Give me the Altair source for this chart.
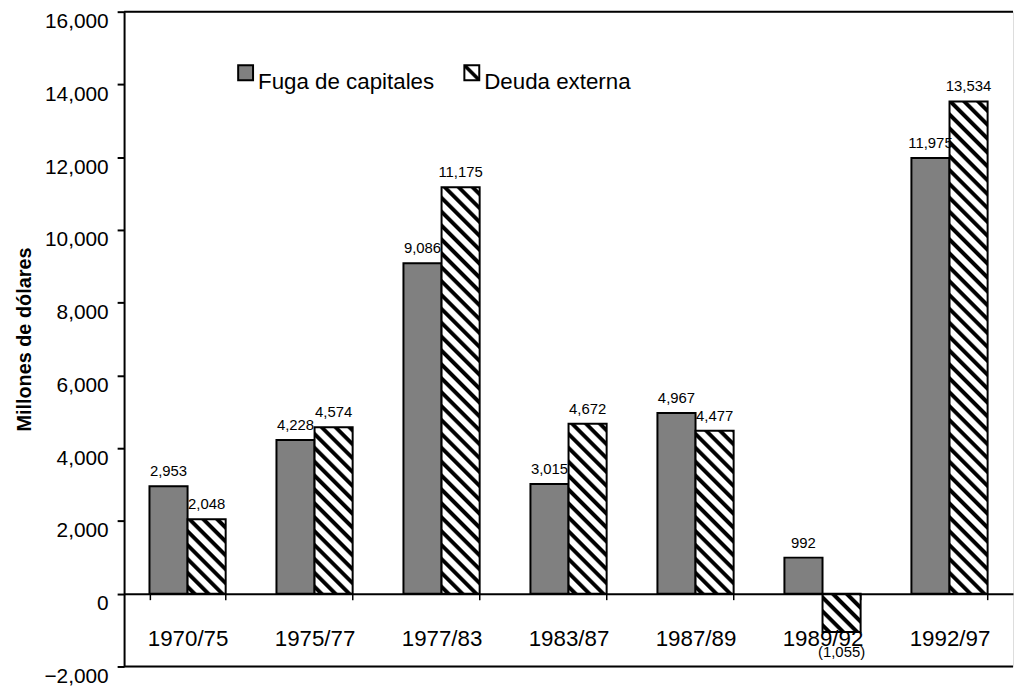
import math
import altair as alt
import pandas as pd

# ---------------- data ----------------
periods = ["1970/75", "1975/77", "1977/83", "1983/87", "1987/89", "1989/92", "1992/97"]
fuga = [2953, 4228, 9086, 3015, 4967, 992, 11975]
deuda = [2048, 4574, 11175, 4672, 4477, -1055, 13534]
series = ["Fuga de capitales", "Deuda externa"]
y_ticks = [-2000, 0, 2000, 4000, 6000, 8000, 10000, 12000, 14000, 16000]
y_title = "Millones de dólares"

rows = []
for p, f, d in zip(periods, fuga, deuda):
    rows.append({"period": p, "series": series[0], "value": f})
    rows.append({"period": p, "series": series[1], "value": d})
df = pd.DataFrame(rows)
frame_df = pd.DataFrame({"value": [y_ticks[-1], y_ticks[0]]})
legend_df = pd.DataFrame({"series": series})

# ---------------- layout / style ----------------
FONT = "Liberation Sans"
W, H = 896, 660
Y_MIN, Y_MAX = y_ticks[0], y_ticks[-1]
PAD_INNER, PAD_OUTER = 0.4, 0.2
GRAY = "#808080"

step = W / (len(periods) - PAD_INNER + 2 * PAD_OUTER)
bar_w = step * (1 - PAD_INNER) / 2
zero_px = H * (Y_MAX - 0) / (Y_MAX - Y_MIN)


def bar_h(v):
    return abs(v) / (Y_MAX - Y_MIN) * H


def hatch(w, h, period=9.9, frac=0.4, phase=0.5, soft=0.6):
    """Linear gradient (objectBoundingBox) giving 45-degree '\\' stripes."""
    span = (w + h) / math.sqrt(2)
    k = (w + h) / (w * w + h * h)
    s = soft / span
    stops = []
    last = 0.0
    n = int(span / period) + 2
    for i in range(-1, n + 1):
        c = (phase + i) * period
        a = (c - frac * period / 2) / span
        b = (c + frac * period / 2) / span
        if b + s <= 0 or a - s >= 1:
            continue
        pts = [(a - s, "#ffffff"), (a + s, "#000000"), (b - s, "#000000"), (b + s, "#ffffff")]
        for off, col in pts:
            off = min(max(off, 0.0), 1.0)
            off = max(off, last)
            last = off
            stops.append({"offset": round(off, 5), "color": col})
    if not stops:
        stops = [{"offset": 0, "color": "#ffffff"}, {"offset": 1, "color": "#ffffff"}]
    return {"gradient": "linear", "x1": 0, "y1": 1, "x2": k * w, "y2": 1 - k * h, "stops": stops}


X = alt.X(
    "period:N",
    sort=periods,
    scale=alt.Scale(domain=periods, paddingInner=PAD_INNER, paddingOuter=PAD_OUTER),
    axis=alt.Axis(
        title=None,
        offset=-(H - zero_px),
        labelAngle=0,
        labelFontSize=22.5,
        labelFont=FONT,
        labelColor="black",
        labelPadding=28,
        tickBand="extent",
        tickSize=6,
        tickWidth=1.5,
        tickColor="black",
        domainColor="black",
        domainWidth=2,
        zindex=1,
    ),
)
XO = alt.XOffset("series:N", sort=series, scale=alt.Scale(domain=series, paddingInner=0, paddingOuter=0))
Y = alt.Y(
    "value:Q",
    scale=alt.Scale(domain=[Y_MIN, Y_MAX], nice=False, zero=False),
    axis=alt.Axis(
        title=y_title,
        values=y_ticks,
        format=",.0f",
        grid=False,
        labelFontSize=21,
        labelFont=FONT,
        labelColor="black",
        labelPadding=9,
        labelOffset=10,
        tickSize=7,
        tickWidth=2,
        tickColor="black",
        domainColor="black",
        domainWidth=2,
        titleFont=FONT,
        titleFontSize=20,
        titleFontWeight="bold",
        titleColor="black",
        titleAngle=270,
        titleX=-100,
        titleY=H / 2,
        titleAlign="center",
        titleBaseline="middle",
    ),
)

base = alt.Chart(df)

gray_bars = base.transform_filter(
    alt.FieldEqualPredicate(field="series", equal=series[0])
).mark_bar(fill=GRAY, stroke="black", strokeWidth=2).encode(x=X, xOffset=XO, y=Y)

hatched_layers = []
for p, d in zip(periods, deuda):
    hatched_layers.append(
        base.transform_filter(
            f"datum.period === '{p}' && datum.series === '{series[1]}'"
        ).mark_bar(
            fill=hatch(bar_w, bar_h(d)), stroke="black", strokeWidth=2
        ).encode(x=X, xOffset=XO, y=Y)
    )

label_expr = "datum.value < 0 ? '(' + format(-datum.value, ',') + ')' : format(datum.value, ',')"
labels_pos = base.transform_filter("datum.value >= 0").transform_calculate(
    label=label_expr
).mark_text(dy=-10, baseline="alphabetic", fontSize=15, font=FONT, color="black").encode(
    x=X, xOffset=XO, y=Y, text="label:N"
)
labels_neg = base.transform_filter("datum.value < 0").transform_calculate(
    label=label_expr
).mark_text(dy=25, baseline="alphabetic", fontSize=15, font=FONT, color="black").encode(
    x=X, xOffset=XO, y=Y, text="label:N"
)

frame = alt.Chart(frame_df).mark_rule(color="black", strokeWidth=2).encode(y=Y)

# legend (drawn as marks)
leg = alt.Chart(legend_df)
leg_sq1 = leg.transform_filter(alt.FieldEqualPredicate(field="series", equal=series[0])).mark_rect(
    fill=GRAY, stroke="black", strokeWidth=2
).encode(x=alt.value(115), x2=alt.value(130), y=alt.value(54), y2=alt.value(69))
leg_sq2 = leg.transform_filter(alt.FieldEqualPredicate(field="series", equal=series[1])).mark_rect(
    fill=hatch(15, 15, period=12, frac=0.3, phase=0.5 * (30 / math.sqrt(2)) / 12), stroke="black", strokeWidth=2
).encode(x=alt.value(343), x2=alt.value(358), y=alt.value(54), y2=alt.value(69))
leg_t1 = leg.transform_filter(alt.FieldEqualPredicate(field="series", equal=series[0])).mark_text(
    align="left", baseline="alphabetic", fontSize=22.5, font=FONT, color="black"
).encode(x=alt.value(135), y=alt.value(77.5), text="series:N")
leg_t2 = leg.transform_filter(alt.FieldEqualPredicate(field="series", equal=series[1])).mark_text(
    align="left", baseline="alphabetic", fontSize=22.5, font=FONT, color="black"
).encode(x=alt.value(363), y=alt.value(77.5), text="series:N")

chart = alt.layer(
    gray_bars, *hatched_layers, labels_pos, labels_neg, frame, leg_sq1, leg_sq2, leg_t1, leg_t2
).properties(
    width=W,
    height=H,
    autosize=alt.AutoSizeParams(type="none"),
    padding={"left": 117, "top": 1, "right": 1, "bottom": 20},
    background="white",
).configure_view(stroke=None).configure(font=FONT)

chart.save("out.html", embed_options={"renderer": "svg", "actions": False})
